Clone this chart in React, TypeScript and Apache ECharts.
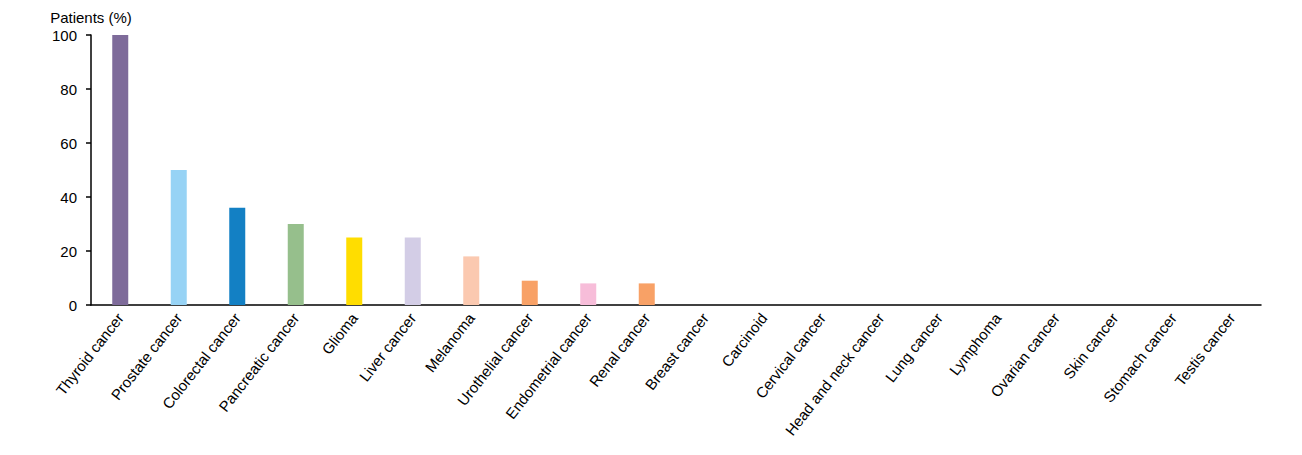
import React, { useEffect, useRef } from "react";
import * as echarts from "echarts";

const categories = [
  "Thyroid cancer",
  "Prostate cancer",
  "Colorectal cancer",
  "Pancreatic cancer",
  "Glioma",
  "Liver cancer",
  "Melanoma",
  "Urothelial cancer",
  "Endometrial cancer",
  "Renal cancer",
  "Breast cancer",
  "Carcinoid",
  "Cervical cancer",
  "Head and neck cancer",
  "Lung cancer",
  "Lymphoma",
  "Ovarian cancer",
  "Skin cancer",
  "Stomach cancer",
  "Testis cancer",
];

const values = [100, 50, 36, 30, 25, 25, 18, 9, 8, 8, 0, 0, 0, 0, 0, 0, 0, 0, 0, 0];

const barColors = [
  "#7e6b9a",
  "#97d3f5",
  "#1380c4",
  "#96bf8c",
  "#ffdd00",
  "#d3cde6",
  "#fbc9b0",
  "#f8a166",
  "#f7bdd9",
  "#f8a166",
  "#cccccc",
  "#cccccc",
  "#cccccc",
  "#cccccc",
  "#cccccc",
  "#cccccc",
  "#cccccc",
  "#cccccc",
  "#cccccc",
  "#cccccc",
];

const yTicks = [0, 20, 40, 60, 80, 100];

export default function App() {
  const ref = useRef<HTMLDivElement>(null);
  useEffect(() => {
    if (!ref.current) return;
    const chart = echarts.init(ref.current, undefined, { renderer: "svg" });
    const font = "Liberation Sans, Arial, sans-serif";
    chart.setOption({
      animation: false,
      grid: { left: 83, right: 33, top: 27, bottom: 142, containLabel: false },
      xAxis: {
        type: "category",
        data: categories,
        axisLine: { lineStyle: { color: "#000", width: 1.5 } },
        axisTick: { alignWithLabel: true, length: 6, lineStyle: { color: "#000", width: 1.5 } },
        axisLabel: {
          rotate: 52,
          interval: 0,
          margin: 10,
          color: "#000",
          fontSize: 15,
          fontFamily: font,
        },
      },
      yAxis: {
        type: "value",
        min: yTicks[0],
        max: yTicks[yTicks.length - 1],
        interval: 20,
        name: "Patients (%)",
        nameLocation: "end",
        nameGap: 10,
        nameTextStyle: { color: "#000", fontSize: 15, fontFamily: font },
        axisLine: { show: true, lineStyle: { color: "#000", width: 1.5 } },
        axisTick: { show: true, length: 5, lineStyle: { color: "#000", width: 1.5 } },
        axisLabel: { color: "#000", fontSize: 15, fontFamily: font, margin: 14 },
        splitLine: { show: false },
      },
      series: [
        {
          type: "bar",
          barWidth: 16,
          data: values.map((v, i) => ({ value: v, itemStyle: { color: barColors[i] } })),
        },
      ],
    });
    return () => chart.dispose();
  }, []);
  return <div ref={ref} style={{ width: 1286, height: 439 }} />;
}
